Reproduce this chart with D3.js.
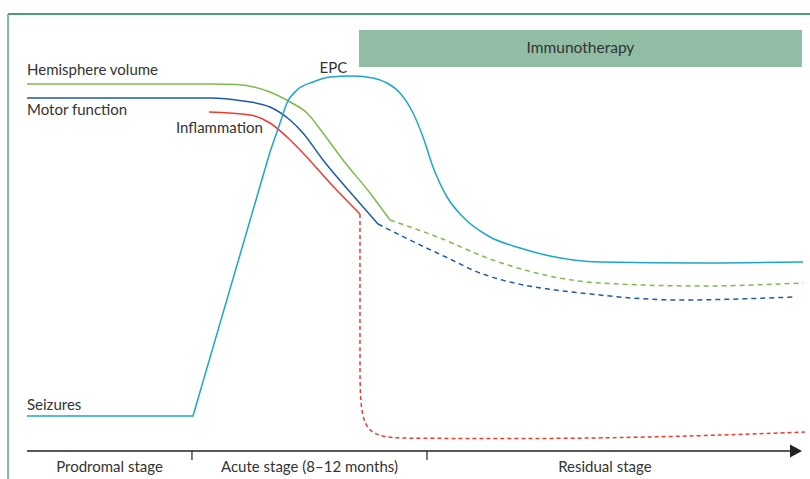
<!DOCTYPE html>
<html>
<head>
<meta charset="utf-8">
<script src="https://d3js.org/d3.v7.min.js"></script>
<style>
	html, body { margin:0; padding:0; background:#fff; }
	svg text { font-family: Lato, "Open Sans", sans-serif; fill:#333; }
</style>
</head>
<body>
<svg id="svg"></svg>
<script>
"use strict";

// time runs 0..100 across the page, level runs 0..100 bottom to top
var stageNames   = ["Prodromal stage", "Acute stage (8\u201312 months)", "Residual stage"];
var stageBreaks  = [0, 21.15, 51.28, 96.9];
var axisEnd      = 99.36;

var seriesNames  = ["Hemisphere volume", "Motor function", "Inflammation", "Seizures", "EPC"];

var hemisphereSolid  = [[0,91.75],[23.46,91.75],[26.92,91.6],[31.15,89.75],[33.72,87.25],[35.9,84.5],[37.95,79.5],[40.51,72.75],[43.97,64.5],[46.54,57.75]];
var hemisphereDashed = [[46.54,57.75],[52.95,53.25],[59.36,48],[73.46,42],[86.28,41.25],[99.49,42]];

var motorSolid  = [[0,88.25],[23.46,88.25],[27.69,87.5],[31.15,86],[33.72,82.75],[35.38,79.5],[37.95,72.75],[42.31,62.75],[45,56.75]];
var motorDashed = [[45,56.75],[49.1,52.75],[54.49,47.75],[58.08,44.5],[73.46,39],[83.72,37.75],[98.21,38.5]];

var inflammationSolid  = [[23.33,84.75],[28.59,84],[31.15,82],[33.33,78.5],[35.38,74.5],[38.85,67],[42.69,59.25]];
var inflammationDashed = [[42.69,59.25],[42.69,20],[42.69,3.3],[48.5,3.2],[68.33,3],[86.28,3.75],[99.74,4.75]];

var seizureRise = [[0,8.75],[21.28,8.75],[31.15,74.75]];
var epcCurve    = [[31.15,74.75],[32.44,82],[33.33,87],[34.62,90.25],[36.67,92.25],[38.85,93.5],[41.79,93.75],[44.36,93.25],[46.15,92],[47.82,89.5],[49.49,84.5],[50.77,78.5],[52.05,71],[53.85,63.5],[55.9,58.5],[59.36,53.5],[63.21,50.75],[67.05,48.75],[73.46,47.25],[86.28,47],[99.49,47.25]];

var therapySpan  = [42.56, 99.36];   // time
var therapyLevel = [96, 105.25];     // level
var therapyLabel = "Immunotherapy";

var
	width  = 810,
	height = 479,

	colors = {
		green: "#7cbb4a",
		blue:  "#1f5aa6",
		red:   "#ee3b2f",
		teal:  "#1ca6cc"
	},

	x = d3.scaleLinear().domain([0, 100]).range([27, 807]),
	y = d3.scaleLinear().domain([0, 100]).range([451, 51]),

	svg = d3.select("#svg")
			.attr("width", width)
			.attr("height", height);

// frame
svg.append("line")
	.attr("x1", 8).attr("x2", width).attr("y1", 14).attr("y2", 14)
	.style("stroke", "#12774b").style("stroke-width", 1.5);
svg.append("line")
	.attr("x1", 8).attr("x2", 8).attr("y1", 14).attr("y2", height)
	.style("stroke", "#6cb98a").style("stroke-width", 1.8);

// immunotherapy band
svg.append("rect")
	.attr("x", x(therapySpan[0]))
	.attr("y", y(therapyLevel[1]))
	.attr("width", x(therapySpan[1]) - x(therapySpan[0]))
	.attr("height", y(therapyLevel[0]) - y(therapyLevel[1]))
	.style("fill", "#91bda4");
svg.append("text")
	.attr("x", (x(therapySpan[0]) + x(therapySpan[1])) / 2)
	.attr("y", y(therapyLevel[0]) - 14)
	.attr("text-anchor", "middle")
	.style("font-size", "15.5px")
	.text(therapyLabel);

var smooth = d3.line()
		.x(function(d){return x(d[0])})
		.y(function(d){return y(d[1])})
		.curve(d3.curveMonotoneX),

	straight = d3.line()
		.x(function(d){return x(d[0])})
		.y(function(d){return y(d[1])}),

	rounded = d3.line()
		.x(function(d){return x(d[0])})
		.y(function(d){return y(d[1])})
		.curve(d3.curveBasis);

var paths = [
	{data: hemisphereSolid,    gen: smooth,   color: colors.green, dash: null},
	{data: hemisphereDashed,   gen: smooth,   color: colors.green, dash: "5,4"},
	{data: motorSolid,         gen: smooth,   color: colors.blue,  dash: null},
	{data: motorDashed,        gen: smooth,   color: colors.blue,  dash: "5,4"},
	{data: inflammationSolid,  gen: smooth,   color: colors.red,   dash: null},
	{data: inflammationDashed, gen: rounded,  color: colors.red,   dash: "4,3"},
	{data: seizureRise,        gen: straight, color: colors.teal,  dash: null},
	{data: epcCurve,           gen: smooth,   color: colors.teal,  dash: null}
];

svg.selectAll("path.series")
	.data(paths)
	.enter()
	.append("path")
	.attr("class", "series")
	.attr("d", function(d){return d.gen(d.data)})
	.style("fill", "none")
	.style("stroke", function(d){return d.color})
	.style("stroke-width", 1.5)
	.style("stroke-dasharray", function(d){return d.dash});

// series labels
var labels = [
	{text: seriesNames[0], px: x(0),     py: 75},
	{text: seriesNames[1], px: x(0),     py: 115},
	{text: seriesNames[2], px: x(19.1),  py: 133},
	{text: seriesNames[3], px: x(0),     py: 410},
	{text: seriesNames[4], px: x(37.5),  py: 73}
];

svg.selectAll("text.label")
	.data(labels)
	.enter()
	.append("text")
	.attr("class", "label")
	.attr("x", function(d){return d.px})
	.attr("y", function(d){return d.py})
	.style("font-size", "15px")
	.text(function(d){return d.text});

// time axis
var axisY = y(0);
svg.append("line")
	.attr("x1", x(0)).attr("x2", x(axisEnd) - 8)
	.attr("y1", axisY).attr("y2", axisY)
	.style("stroke", "#222").style("stroke-width", 1.5);
svg.append("path")
	.attr("d", "M" + (x(axisEnd) - 12) + "," + (axisY - 6.5) +
			   "L" + x(axisEnd) + "," + axisY +
			   "L" + (x(axisEnd) - 12) + "," + (axisY + 6.5) + "Z")
	.style("fill", "#222");

svg.selectAll("line.tick")
	.data(stageBreaks.slice(1, 3))
	.enter()
	.append("line")
	.attr("class", "tick")
	.attr("x1", function(d){return x(d)})
	.attr("x2", function(d){return x(d)})
	.attr("y1", axisY)
	.attr("y2", axisY + 9)
	.style("stroke", "#222").style("stroke-width", 1.2);

svg.selectAll("text.stage")
	.data(stageNames)
	.enter()
	.append("text")
	.attr("class", "stage")
	.attr("x", function(d, i){return (x(stageBreaks[i]) + x(stageBreaks[i + 1])) / 2})
	.attr("y", 472)
	.attr("text-anchor", "middle")
	.style("font-size", "15px")
	.text(function(d){return d});
</script>
</body>
</html>
